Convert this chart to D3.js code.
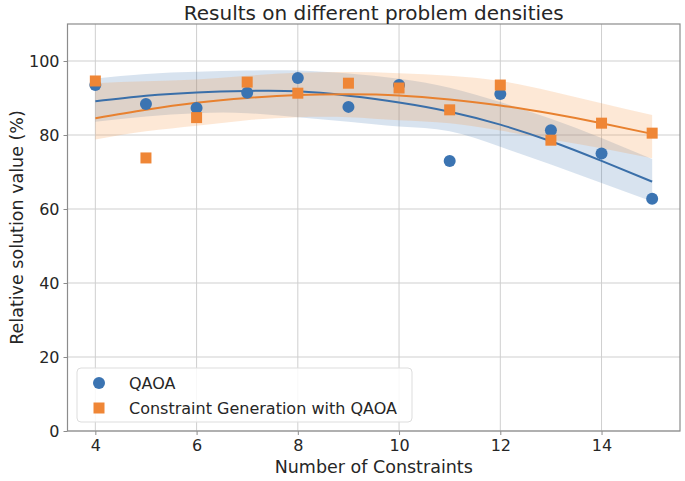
<!DOCTYPE html>
<meta charset="utf-8">
<style>
body { margin: 0; background: #fff; }
text { font-family: "DejaVu Sans", sans-serif; fill: #262626; }
.grid line { stroke: #cfcfcf; stroke-width: 1; }
.axis path, .axis line { stroke: #8c8c8c; }
</style>
<body></body>
<script src="https://d3js.org/d3.v7.min.js"></script>
<script>

var constraints = [4, 5, 6, 7, 8, 9, 10, 11, 12, 13, 14, 15];

// scatter values
var qaoa = [93.5, 88.4, 87.3, 91.4, 95.4, 87.6, 93.5, 73.0, 91.1, 81.3, 75.0, 62.8];
var cgQaoa = [94.6, 73.8, 84.7, 94.3, 91.3, 94.0, 92.7, 86.8, 93.5, 78.6, 83.2, 80.5];

// fitted curves and their confidence bands
var qaoaFit = [89.1, 90.6, 91.5, 91.9, 91.8, 90.6, 88.8, 86.3, 82.8, 78.3, 73.0, 67.4];
var qaoaLo  = [83.6, 85.0, 85.9, 85.9, 84.8, 83.6, 82.3, 81.0, 76.8, 72.0, 67.0, 62.0];
var qaoaHi  = [95.3, 96.5, 97.1, 97.4, 97.4, 96.6, 95.2, 92.8, 88.9, 84.4, 79.2, 73.5];
var cgFit = [84.5, 86.8, 88.7, 90.0, 90.8, 91.0, 90.7, 89.6, 88.0, 85.8, 83.2, 80.3];
var cgLo  = [78.8, 81.0, 82.5, 84.0, 84.8, 84.8, 84.0, 83.2, 81.2, 78.8, 76.4, 73.7];
var cgHi  = [94.0, 94.5, 95.0, 96.0, 96.8, 97.0, 96.7, 96.0, 94.6, 91.8, 88.6, 85.4];

var xTicks = [4, 6, 8, 10, 12, 14];
var yTicks = [0, 20, 40, 60, 80, 100];

var width = 685, height = 481;
var m = {left: 67.5, right: 680, top: 24, bottom: 431};

var svg = d3.select("body").append("svg")
    .attr("width", width)
    .attr("height", height);

var x = d3.scaleLinear().domain([3.45, 15.55]).range([m.left, m.right]);
var y = d3.scaleLinear().domain([0, 110]).range([m.bottom, m.top]);

// grid
var grid = svg.append("g").attr("class", "grid");
grid.selectAll("line.v").data(xTicks).enter().append("line")
    .attr("x1", d => x(d)).attr("x2", d => x(d))
    .attr("y1", m.top).attr("y2", m.bottom);
grid.selectAll("line.h").data(yTicks).enter().append("line")
    .attr("x1", m.left).attr("x2", m.right)
    .attr("y1", d => y(d)).attr("y2", d => y(d));

var series = [
  {name: "QAOA", pts: qaoa, fit: qaoaFit, lo: qaoaLo, hi: qaoaHi,
   color: "#3b74b2", line: "#3a6fa9", band: "rgba(58,117,176,0.2)", shape: "circle"},
  {name: "Constraint Generation with QAOA", pts: cgQaoa, fit: cgFit, lo: cgLo, hi: cgHi,
   color: "#ef8636", line: "#e8812f", band: "rgba(245,150,70,0.22)", shape: "square"}
];

var area = d3.area()
    .x((d, i) => x(constraints[i]))
    .y0(d => y(d[0]))
    .y1(d => y(d[1]))
    .curve(d3.curveNatural);

var line = d3.line()
    .x((d, i) => x(constraints[i]))
    .y(d => y(d))
    .curve(d3.curveNatural);

series.forEach(function(s) {
  svg.append("path")
      .datum(s.lo.map((v, i) => [v, s.hi[i]]))
      .attr("d", area)
      .attr("fill", s.band);
});

series.forEach(function(s) {
  svg.append("path")
      .datum(s.fit)
      .attr("d", line)
      .attr("fill", "none")
      .attr("stroke", s.line)
      .attr("stroke-width", 2);
});

series.forEach(function(s) {
  var g = svg.append("g");
  if (s.shape == "circle") {
    g.selectAll("circle").data(s.pts).enter().append("circle")
        .attr("cx", (d, i) => x(constraints[i]))
        .attr("cy", d => y(d))
        .attr("r", 6)
        .attr("fill", s.color);
  } else {
    g.selectAll("rect").data(s.pts).enter().append("rect")
        .attr("x", (d, i) => x(constraints[i]) - 5.5)
        .attr("y", d => y(d) - 5.5)
        .attr("width", 11).attr("height", 11)
        .attr("fill", s.color);
  }
});

// axes
var xAxis = svg.append("g")
    .attr("class", "axis")
    .attr("transform", "translate(0," + m.bottom + ")")
    .call(d3.axisBottom(x).tickValues(xTicks).tickSize(4).tickPadding(5).tickSizeOuter(0));
var yAxis = svg.append("g")
    .attr("class", "axis")
    .attr("transform", "translate(" + m.left + ",0)")
    .call(d3.axisLeft(y).tickValues(yTicks).tickSize(4).tickPadding(4).tickSizeOuter(0));
svg.selectAll(".axis text").style("font-size", "16px").style("font-family", "DejaVu Sans").attr("fill", "#262626");
xAxis.select(".domain").remove();
yAxis.select(".domain").remove();

// frame
svg.append("rect")
    .attr("x", m.left).attr("y", m.top)
    .attr("width", m.right - m.left).attr("height", m.bottom - m.top)
    .attr("fill", "none").attr("stroke", "#8c8c8c").attr("stroke-width", 1.2);

// labels
svg.append("text")
    .attr("x", (m.left + m.right) / 2).attr("y", 20)
    .attr("text-anchor", "middle")
    .style("font-size", "20px")
    .text("Results on different problem densities");

svg.append("text")
    .attr("x", (m.left + m.right) / 2).attr("y", 473)
    .attr("text-anchor", "middle")
    .style("font-size", "17.5px")
    .text("Number of Constraints");

svg.append("text")
    .attr("transform", "translate(23," + ((m.top + m.bottom) / 2) + ") rotate(-90)")
    .attr("text-anchor", "middle")
    .style("font-size", "17.5px")
    .text("Relative solution value (%)");

// legend
var legend = svg.append("g");
legend.append("rect")
    .attr("x", 77).attr("y", 368)
    .attr("width", 335).attr("height", 54)
    .attr("rx", 4)
    .attr("fill", "rgba(255,255,255,0.85)")
    .attr("stroke", "#dddddd");
legend.append("circle")
    .attr("cx", 99).attr("cy", 383).attr("r", 6)
    .attr("fill", series[0].color);
legend.append("rect")
    .attr("x", 93.5).attr("y", 402.5).attr("width", 11).attr("height", 11)
    .attr("fill", series[1].color);
legend.selectAll("text.lg").data(series).enter().append("text")
    .attr("x", 129)
    .attr("y", (d, i) => 389 + i * 25)
    .style("font-size", "16px")
    .text(d => d.name);

</script>
